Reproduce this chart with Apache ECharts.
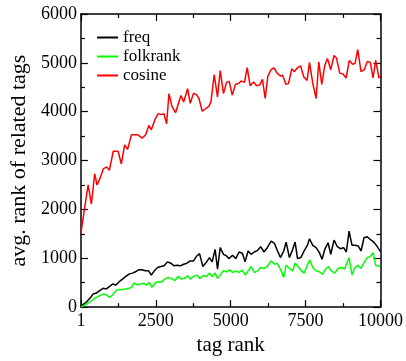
<!DOCTYPE html>
<html><head><meta charset="utf-8">
<script src="https://cdn.jsdelivr.net/npm/echarts@6/dist/echarts.min.js"></script>
<style>html,body{margin:0;padding:0;background:#fff}#c{width:406px;height:361px}</style>
</head><body><div id="c"></div>
<script>
const seriesNames = ['freq', 'folkrank', 'cosine'];
const xTickLabels = ['1', '2500', '5000', '7500', '10000'];
const yTickLabels = ['0', '1000', '2000', '3000', '4000', '5000', '6000'];

const freqRank = [1,200,330,410,520,630,740,850,960,1060,1170,1280,1390,1500,1610,1720,1820,1930,2040,2150,2260,2350,2450,2560,2670,2780,2890,3000,3110,3210,3320,3430,3540,3650,3760,3870,3960,4070,4180,4290,4380,4480,4560,4650,4760,4860,4950,5060,5170,5280,5390,5480,5580,5680,5790,5900,6000,6110,6220,6350,6460,6550,6660,6770,6850,6960,7070,7150,7230,7340,7450,7560,7630,7740,7850,7960,8050,8140,8250,8340,8450,8560,8660,8770,8860,8950,9050,9150,9260,9350,9450,9560,9660,9770,9880,10000];
const freqVal = [14,115,203,270,290,338,385,372,426,473,453,520,574,628,676,696,723,764,764,743,743,655,743,811,831,845,926,899,845,858,845,878,899,946,946,1047,1095,831,912,1014,926,1182,777,1216,1081,1047,993,1061,993,1128,1101,926,1149,1081,1128,1162,1236,1128,1216,1351,1304,1169,1014,1149,1331,1014,1182,1331,993,1014,1149,1264,1399,1264,1216,1115,980,1182,1318,1081,1372,1236,1196,1216,1128,1554,1264,1264,1250,1149,1419,1439,1385,1331,1250,1135];

const folkRank = [1,200,360,470,630,760,850,960,1060,1170,1280,1390,1500,1610,1690,1770,1880,1990,2100,2200,2280,2370,2480,2580,2690,2800,2910,3020,3130,3240,3340,3450,3560,3650,3760,3870,3970,4080,4190,4290,4380,4480,4560,4650,4760,4860,4970,5060,5170,5280,5390,5490,5580,5680,5790,5900,6000,6110,6220,6350,6460,6550,6660,6770,6850,6960,7070,7150,7250,7360,7450,7560,7640,7740,7850,7960,8070,8180,8260,8360,8470,8580,8690,8800,8860,8950,9050,9130,9240,9350,9450,9560,9660,9750,9840,10000];
const folkVal = [0,68,135,182,236,270,250,196,250,338,358,358,372,385,405,493,453,473,486,453,507,405,493,520,507,574,608,588,541,628,574,588,642,574,628,655,588,642,628,696,628,696,588,655,743,723,764,709,743,709,757,655,743,831,709,743,811,791,831,946,878,899,777,608,858,791,743,899,831,743,696,858,966,811,743,723,676,791,831,743,696,791,811,777,743,1014,655,791,858,791,912,1014,1034,1115,858,831];

const cosRank = [1,240,350,460,540,640,750,860,950,1080,1240,1350,1460,1560,1690,1890,2050,2160,2270,2350,2480,2580,2690,2770,2860,2940,3040,3160,3270,3340,3430,3560,3650,3760,3870,3940,4050,4160,4270,4340,4450,4560,4650,4760,4860,4950,5050,5160,5270,5350,5460,5550,5650,5760,5860,5970,6060,6150,6240,6350,6440,6550,6660,6730,6840,6930,7040,7120,7230,7330,7440,7550,7630,7740,7850,7940,8040,8140,8230,8340,8450,8530,8640,8750,8850,8960,9070,9150,9240,9350,9460,9560,9660,9750,9840,9950,10000];
const cosVal = [1520,2500,2110,2730,2500,2640,2830,2870,2800,3190,3190,2930,3320,3230,3530,3530,3460,3530,3720,3630,3850,3960,3940,3960,3750,4370,4110,3980,4200,4330,4200,4470,4170,4380,4340,4270,4010,4060,4110,4200,4760,4300,4840,4370,4600,4620,4340,4560,4580,4630,4600,4900,4530,4610,4530,4550,4660,4270,4730,4860,4900,4790,4730,4750,4560,4580,4880,4820,4900,4940,4710,4640,5010,4580,4270,5020,4560,4950,5090,4860,5150,5100,4790,4770,4690,5050,4970,4990,5270,4820,4860,5030,5010,4690,5050,4690,4720];

const zip = (a, b) => a.map((x, i) => [x, b[i]]);
const font = 'Liberation Serif';
const chart = echarts.init(document.getElementById('c'), null, {renderer: 'canvas'});

const xBase = {
  type: 'value', min: 0, max: 10000, interval: 2500,
  axisLine: {show: true, onZero: false, lineStyle: {color: '#000', width: 1.5}},
  axisTick: {show: true, inside: true, length: 7, lineStyle: {color: '#000', width: 1.2}},
  minorTick: {show: true, splitNumber: 2, length: 4, lineStyle: {color: '#000', width: 1.2}},
  splitLine: {show: false}
};
const yBase = {
  type: 'value', min: 0, max: 6000, interval: 1000,
  axisLine: {show: true, onZero: false, lineStyle: {color: '#000', width: 1.5}},
  axisTick: {show: true, inside: true, length: 7, lineStyle: {color: '#000', width: 1.2}},
  minorTick: {show: true, splitNumber: 2, length: 4, lineStyle: {color: '#000', width: 1.2}},
  splitLine: {show: false}
};

chart.setOption({
  animation: false,
  backgroundColor: '#fff',
  grid: {left: 74, right: 25, top: 14, bottom: 42, containLabel: false},
  legend: {
    data: seriesNames, orient: 'vertical', left: 92, top: 24,
    icon: 'rect', itemWidth: 21, itemHeight: 2, itemGap: 2,
    textStyle: {fontFamily: font, fontSize: 17, color: '#000', lineHeight: 17}
  },
  xAxis: [
    Object.assign({}, xBase, {
      position: 'bottom',
      name: 'tag rank', nameLocation: 'middle', nameGap: 25,
      nameTextStyle: {fontFamily: font, fontSize: 21, color: '#000'},
      axisLabel: {show: true, margin: 5, fontFamily: font, fontSize: 18, color: '#000',
        formatter: v => xTickLabels[Math.round(v / 2500)]}
    }),
    Object.assign({}, xBase, {position: 'top', axisLabel: {show: false}})
  ],
  yAxis: [
    Object.assign({}, yBase, {
      position: 'left',
      name: 'avg. rank of related tags', nameLocation: 'middle', nameGap: 40,
      nameTextStyle: {fontFamily: font, fontSize: 22, color: '#000'},
      axisLabel: {show: true, margin: 4, fontFamily: font, fontSize: 18, color: '#000',
        formatter: v => yTickLabels[Math.round(v / 1000)]}
    }),
    Object.assign({}, yBase, {position: 'right', axisLabel: {show: false}})
  ],
  series: [
    {name: 'freq', type: 'line', data: zip(freqRank, freqVal), showSymbol: false, symbol: 'none',
     lineStyle: {color: '#000', width: 1.5}, itemStyle: {color: '#000'}},
    {name: 'folkrank', type: 'line', data: zip(folkRank, folkVal), showSymbol: false, symbol: 'none',
     lineStyle: {color: '#00ff00', width: 1.5}, itemStyle: {color: '#00ff00'}},
    {name: 'cosine', type: 'line', data: zip(cosRank, cosVal), showSymbol: false, symbol: 'none',
     lineStyle: {color: '#ff0000', width: 1.5}, itemStyle: {color: '#ff0000'}}
  ]
});
</script></body></html>
